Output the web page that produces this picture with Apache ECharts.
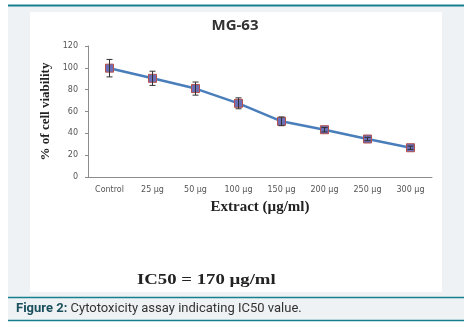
<!DOCTYPE html>
<html><head><meta charset="utf-8">
<script src="https://cdn.jsdelivr.net/npm/echarts@6/dist/echarts.min.js"></script>
<style>html,body{margin:0;padding:0;background:#fff}#c{width:470px;height:327px}</style>
</head><body><div id="c"></div>
<script>
const categories = ['Control','25 µg','50 µg','100 µg','150 µg','200 µg','250 µg','300 µg'];
const viability = [99.7, 90.4, 81, 67.5, 51, 43.3, 34.8, 26.8];
const errors = [8, 6.5, 6, 5, 4, 2, 1.5, 1.5];
const yTicks = [0, 20, 40, 60, 80, 100, 120];

const chart = echarts.init(document.getElementById('c'), null, {renderer:'canvas'});
const serif = '"Liberation Serif", "DejaVu Serif", serif';
chart.setOption({
  animation:false,
  backgroundColor:'#ffffff',
  graphic:[
    {type:'rect', z:-10, shape:{x:8,y:5,width:456,height:316}, style:{fill:'#eef2f5'}},
    {type:'rect', z:-9, shape:{x:30,y:12,width:412,height:280}, style:{fill:'#ffffff'}},
    {type:'line', z:-8, shape:{x1:8,y1:5.5,x2:464,y2:5.5}, style:{stroke:'#157f8e',lineWidth:2}},
    {type:'line', z:-8, shape:{x1:8,y1:297.5,x2:464,y2:297.5}, style:{stroke:'#157f8e',lineWidth:1.5}},
    {type:'line', z:-8, shape:{x1:8,y1:320.5,x2:464,y2:320.5}, style:{stroke:'#157f8e',lineWidth:1.5}},
    {type:'text', x:137, y:273, scaleX:1.25, style:{text:'IC50 = 170 µg/ml', font:'bold 15px '+serif, fill:'#222'}},
    {type:'text', left:16, top:302, style:{
      text:'{b|Figure 2:} Cytotoxicity assay indicating IC50 value.',
      font:'13px Roboto, sans-serif', fill:'#333',
      rich:{b:{fontWeight:'bold', fontFamily:'Roboto, sans-serif', fontSize:13, fill:'#1a4f5c', color:'#1a4f5c'}}
    }}
  ],
  title:{text:'MG-63', left:'center', top:13,
    textStyle:{fontFamily:'"Open Sans", "DejaVu Sans", sans-serif', fontWeight:'bold', fontSize:15, color:'#333'}},
  grid:{left:88, right:38, top:46, bottom:150},
  xAxis:{type:'category', data:categories, boundaryGap:true,
    axisLine:{lineStyle:{color:'#8c8c8c', width:1}},
    axisTick:{show:false},
    axisLabel:{fontSize:8, color:'#555', fontFamily:'"DejaVu Sans", sans-serif', margin:9},
    name:'Extract (µg/ml)', nameLocation:'middle', nameGap:23,
    nameTextStyle:{fontFamily:serif, fontWeight:'bold', fontSize:15, color:'#222'}
  },
  yAxis:{type:'value', min:yTicks[0], max:yTicks[yTicks.length-1], interval:20,
    axisLine:{show:true, lineStyle:{color:'#8c8c8c', width:1}},
    axisTick:{show:true, length:3, lineStyle:{color:'#8c8c8c'}},
    splitLine:{show:false},
    axisLabel:{fontSize:8, color:'#555', fontFamily:'"DejaVu Sans", sans-serif', margin:10},
    name:'% of cell viability', nameLocation:'middle', nameGap:34,
    nameTextStyle:{fontFamily:serif, fontWeight:'bold', fontSize:13, color:'#222'}
  },
  series:[
    {type:'line', data:viability, symbol:'rect', symbolSize:8,
      lineStyle:{color:'#4a7ebb', width:2.5},
      itemStyle:{color:'#6a6fb8', borderColor:'#b5504d', borderWidth:1},
      z:3},
    {type:'custom', z:4,
      data:viability.map((v,i)=>[i, v-errors[i], v+errors[i]]),
      renderItem:function(params, api){
        const lo = api.coord([api.value(0), api.value(1)]);
        const hi = api.coord([api.value(0), api.value(2)]);
        const x = lo[0], w = 3;
        const st = {stroke:'#333', lineWidth:1};
        return {type:'group', children:[
          {type:'line', shape:{x1:x,y1:lo[1],x2:x,y2:hi[1]}, style:st},
          {type:'line', shape:{x1:x-w,y1:lo[1],x2:x+w,y2:lo[1]}, style:st},
          {type:'line', shape:{x1:x-w,y1:hi[1],x2:x+w,y2:hi[1]}, style:st}
        ]};
      }
    }
  ]
});
</script></body></html>
